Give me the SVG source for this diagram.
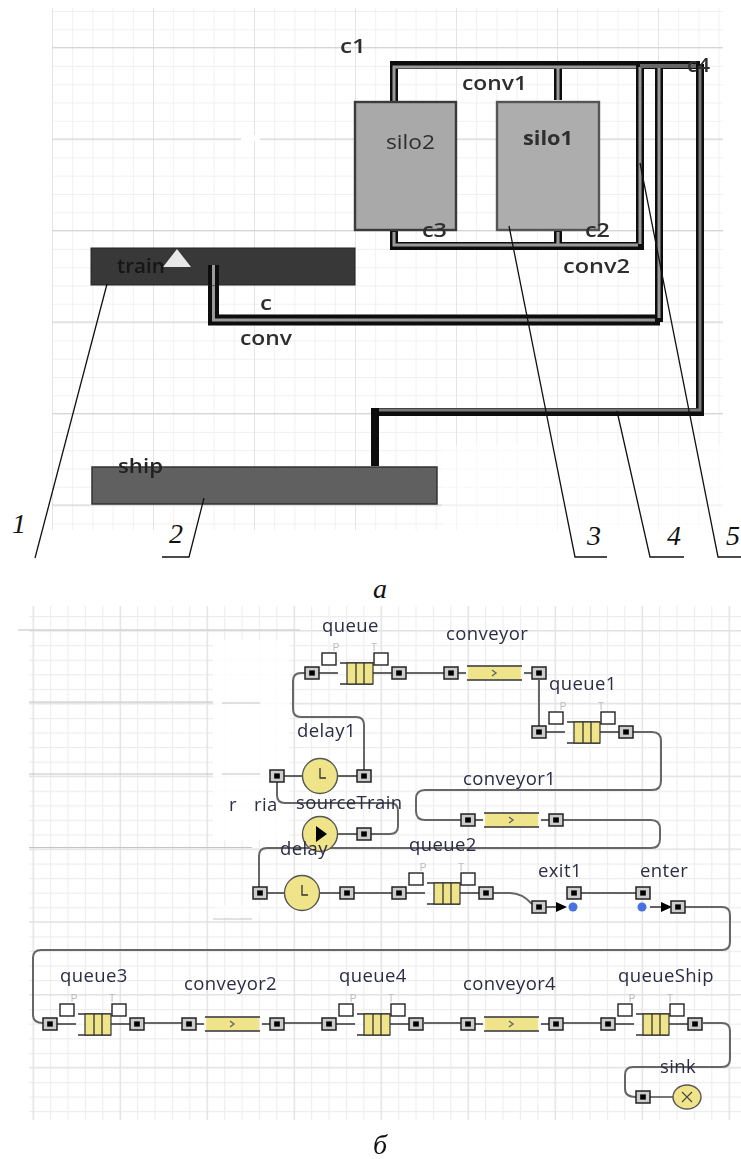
<svg xmlns="http://www.w3.org/2000/svg" width="741" height="1159" viewBox="0 0 741 1159">
<style>
.lab{font-family:"Open Sans","DejaVu Sans",sans-serif;font-size:18.5px;fill:#2c2c44;letter-spacing:.4px}
.top{font-family:"Open Sans","DejaVu Sans",sans-serif;font-size:20px;font-weight:600;fill:#2e2e2e}
.num{font-family:"Liberation Serif",serif;font-style:italic;font-size:28px;fill:#111}
.pt{font-family:"Liberation Sans",sans-serif;font-size:10px;fill:#bbb;text-anchor:middle}
.wire{fill:none;stroke:#666;stroke-width:2}
.stub{fill:none;stroke:#333;stroke-width:1.3}
.y{fill:#f0e48a}
.belt{fill:none;stroke:#111;stroke-width:8}
.beltin{fill:none;stroke:#999;stroke-width:3}
.lead{fill:none;stroke:#111;stroke-width:1.3}
.box{fill:#fff;stroke:#222;stroke-width:1.4}
</style>
<defs>
<pattern id="gMinA" width="20.2" height="18.3" patternUnits="userSpaceOnUse" x="52" y="11"><path d="M.5 0V18.3M0 .5H20.2" fill="none" stroke="#f0f0f0" stroke-width="1"/></pattern>
<pattern id="gMajA" width="101" height="91.5" patternUnits="userSpaceOnUse" x="52" y="47"><path d="M.5 0V91.5" fill="none" stroke="#e4e4e4" stroke-width="1"/><path d="M0 .5H101" fill="none" stroke="#d6d6d6" stroke-width="1.4"/></pattern>
<pattern id="gMinB" width="17.4" height="14.56" patternUnits="userSpaceOnUse" x="15.3" y="616"><path d="M.5 0V14.56M0 .5H17.4" fill="none" stroke="#ededed" stroke-width="1.2"/></pattern>
<pattern id="gMajB" width="87" height="72.8" patternUnits="userSpaceOnUse" x="32.7" y="630"><path d="M.5 0V72.8M0 .5H87" fill="none" stroke="#e2e2e2" stroke-width="1.4"/></pattern>
<filter id="soft" x="-5%" y="-5%" width="110%" height="110%"><feGaussianBlur stdDeviation="0.55"/></filter>
<g id="port"><rect x="-7" y="-6" width="14" height="12" fill="#ccc" stroke="#222" stroke-width="1.5"/><rect x="-2.8" y="-2.6" width="5.6" height="5.2" fill="#000"/></g>
<g id="queueIcon">
<path class="stub" d="M7 0H26M61 0H80M28-10H61M28 11H61"/>
<rect class="y" x="35" y="-10" width="26" height="21" stroke="#333" stroke-width="1.2"/>
<path class="stub" d="M44-10V11M52-10V11"/>
<rect class="box" x="10" y="-20" width="14" height="12"/>
<rect class="box" x="62" y="-20" width="14" height="12"/>
<text class="pt" x="24" y="-22">P</text><text class="pt" x="62" y="-22">T</text>
<use href="#port"/><use href="#port" x="87"/>
</g>
<g id="convIcon">
<path class="stub" d="M7 0H15M73 0H81"/>
<rect class="y" x="17" y="-6.5" width="53" height="13"/>
<path d="M16-7H71M16 7H71" fill="none" stroke="#333" stroke-width="1.3"/>
<path d="M41-3L45 0L41 3" fill="none" stroke="#666" stroke-width="1.4"/>
<use href="#port"/><use href="#port" x="88"/>
</g>
<g id="clock"><circle class="y" r="17.5" stroke="#555" stroke-width="1.4"/><path d="M0-8V2H6" fill="none" stroke="#333" stroke-width="1.3"/></g>
</defs>

<rect width="741" height="1159" fill="#fff"/>

<g id="figA" filter="url(#soft)">
<rect id="gridA" x="52" y="8" width="671" height="522" fill="url(#gMinA)"/>
<rect x="52" y="8" width="671" height="522" fill="url(#gMajA)"/>
<rect x="442" y="445" width="299" height="88" fill="#fff" fill-opacity=".6"/>
<rect x="241" y="135" width="19" height="6" fill="#fff"/>

<g id="connectors-a">
<path class="belt" d="M394 102V65H700M394 230V246H640V65M558 65V100M558 230V246"/>
<path class="beltin" d="M394 102V67H636M558 67V100M558 232V246M394 232V245H638M640 67V244"/>
<path d="M640 66H700" stroke="#666" stroke-width="4" fill="none"/>
<path d="M213.500 265V320H660" fill="none" stroke="#0a0a0a" stroke-width="11"/>
<path d="M213.500 265V320H660" fill="none" stroke="#999" stroke-width="3"/>
<path class="belt" d="M659 68V322"/>
<path class="beltin" d="M659 68V318"/>
<path class="belt" d="M700 64V412H375V466"/>
<path d="M700 66V410H379" fill="none" stroke="#777" stroke-width="3"/>
</g>

<g id="silo2"><rect x="355" y="102" width="101" height="128" fill="#a9a9a9" stroke="#3b3b3b" stroke-width="2.400"/><text class="top" x="386" y="149" textLength="49" lengthAdjust="spacingAndGlyphs" style="font-weight:400">silo2</text></g>
<g id="silo1"><rect x="497" y="102" width="102" height="128" fill="#adadad" stroke="#555" stroke-width="2.400"/><text class="top" x="523" y="145" textLength="50" lengthAdjust="spacingAndGlyphs" font-weight="700" style="font-weight:700">silo1</text></g>
<g id="train"><rect x="91" y="248" width="264" height="37" fill="#383838" stroke="#222"/><path d="M163 267L177 249L191 267Z" fill="#e8e8e8"/><text class="top" x="117" y="273" textLength="48" lengthAdjust="spacingAndGlyphs" style="fill:#161616">train</text>
<path d="M213.500 265V285" fill="none" stroke="#0a0a0a" stroke-width="11"/><path d="M213.500 265V285" fill="none" stroke="#999" stroke-width="3"/></g>
<g id="ship"><rect x="92" y="467" width="345" height="37" fill="#616161" stroke="#333" stroke-width="1.500"/><text class="top" x="118" y="473" textLength="45" lengthAdjust="spacingAndGlyphs" style="fill:#222">ship</text></g>

<g id="labels-a">
<text class="top" x="340" y="53" textLength="26" lengthAdjust="spacingAndGlyphs">c1</text>
<text class="top" x="462" y="90" textLength="65" lengthAdjust="spacingAndGlyphs">conv1</text>
<text class="top" x="422" y="237" textLength="25" lengthAdjust="spacingAndGlyphs">c3</text>
<text class="top" x="585" y="237" textLength="25" lengthAdjust="spacingAndGlyphs">c2</text>
<text class="top" x="687" y="72" textLength="23" lengthAdjust="spacingAndGlyphs">c4</text>
<text class="top" x="563" y="273" textLength="67" lengthAdjust="spacingAndGlyphs">conv2</text>
<text class="top" x="260" y="310" textLength="12" lengthAdjust="spacingAndGlyphs">c</text>
<text class="top" x="240" y="345" textLength="52" lengthAdjust="spacingAndGlyphs">conv</text>
</g>
</g>

<g id="leaders">
<path class="lead" d="M107 284L35 558"/>
<path class="lead" d="M204 498L189 557H162"/>
<path class="lead" d="M509 226L575 557H607"/>
<path class="lead" d="M617 411L650 557H684"/>
<path class="lead" d="M640 163L718 557H741"/>
<text class="num" x="12" y="533">1</text>
<text class="num" x="169" y="543">2</text>
<text class="num" x="587" y="545">3</text>
<text class="num" x="667" y="545">4</text>
<text class="num" x="726" y="545">5</text>
<text class="num" x="373" y="598">a</text>
</g>

<g id="figB">
<rect id="gridB" x="29" y="606" width="712" height="514" fill="url(#gMinB)"/>
<rect x="29" y="606" width="712" height="514" fill="url(#gMajB)"/>
<rect x="213" y="640" width="77" height="200" fill="#fff" fill-opacity=".85"/>
<rect x="215" y="905" width="45" height="12" fill="#fff" fill-opacity=".6"/>
<path d="M18 630H300" stroke="#d4d4d4" stroke-width="1.400" fill="none"/>
<path d="M29 702H213M222 703H260M29 774H213M222 774H260M29 847.500H252M213 919H252" stroke="#c4c4c4" stroke-width="1.200" fill="none"/>

<g id="connectors-b" filter="url(#soft)">
<path class="wire" d="M312 673H301Q293 673 293 681V709Q293 717 301 717H356Q364 717 364 725V776"/>
<path class="stub" d="M406 673H444"/>
<path class="wire" d="M539 680V726"/>
<path class="wire" d="M633 732H652Q661 732 661 741V781Q661 790 652 790H425Q416 790 416 799V811Q416 820 425 820H461"/>
<path class="wire" d="M563 820H651Q660 820 660 829V839Q660 848 651 848H267Q259 848 259 856V887"/>
<path class="wire" d="M277 782V795Q277 803 285 803H390Q398 803 398 811V826Q398 834 390 834H371"/>
<path class="stub" d="M284 776H303M338 776H357M371 834H338M267 893H285M320 893H340M354 893H392"/>
<path class="wire" d="M493 893H510Q522 893 532 904"/>
<path class="stub" d="M581 893H636"/>
<path class="stub" d="M546 907H558M650 907H664"/>
<path d="M556 902L567 907L556 912Z M661 902L672 907L661 912Z" fill="#000"/>
<path class="wire" d="M685 907H722Q730 907 730 915V942Q730 950 722 950H41Q33 950 33 958V1015Q33 1023 43 1023"/>
<path class="wire" d="M144 1023H182M284 1023H322M424 1023H461M563 1023H601"/>
<path class="wire" d="M703 1023H722Q730 1023 730 1031V1059Q730 1067 722 1067H633Q625 1067 625 1075V1089Q625 1097 636 1097"/>
<path class="stub" d="M650 1097H673"/>
</g>

<g id="nodes-b" filter="url(#soft)">
<use id="queue" href="#queueIcon" x="312" y="673"/>
<use id="conveyor" href="#convIcon" x="451" y="673"/>
<use id="queue1" href="#queueIcon" x="539" y="732"/>
<use id="conveyor1" href="#convIcon" x="468" y="820"/>
<g id="delay1"><use href="#clock" x="320" y="776"/><use href="#port" x="277" y="776"/><use href="#port" x="364" y="776"/></g>
<g id="sourceTrain"><circle class="y" cx="320" cy="834" r="17.500" stroke="#555" stroke-width="1.400"/><path d="M316 826L327 834L316 842Z" fill="#000"/><use href="#port" x="364" y="834"/></g>
<g id="delay"><use href="#clock" x="302" y="893"/><use href="#port" x="260" y="893"/><use href="#port" x="347" y="893"/></g>
<use id="queue2" href="#queueIcon" x="399" y="893"/>
<g id="exit1"><use href="#port" x="539" y="907"/><circle cx="573" cy="907" r="4.500" fill="#4a72e0"/><use href="#port" x="574" y="893"/></g>
<g id="enter"><use href="#port" x="643" y="893"/><circle cx="642" cy="907" r="4.500" fill="#4a72e0"/><use href="#port" x="678" y="907"/></g>
<use id="queue3" href="#queueIcon" x="50" y="1024"/>
<use id="conveyor2" href="#convIcon" x="189" y="1024"/>
<use id="queue4" href="#queueIcon" x="329" y="1024"/>
<use id="conveyor4" href="#convIcon" x="468" y="1024"/>
<use id="queueShip" href="#queueIcon" x="608" y="1024"/>
<g id="sink"><use href="#port" x="643" y="1097"/><ellipse class="y" cx="687" cy="1097" rx="14" ry="12" stroke="#555" stroke-width="1.400"/><path d="M682 1092L692 1102M692 1092L682 1102" stroke="#444" stroke-width="1.100"/></g>
</g>

<g id="labels-b">
<text class="lab" x="322" y="632">queue</text>
<text class="lab" x="446" y="640">conveyor</text>
<text class="lab" x="549" y="690">queue1</text>
<text class="lab" x="297" y="737">delay1</text>
<text class="lab" x="229" y="811">r</text>
<text class="lab" x="254" y="811">ria</text>
<text class="lab" x="296" y="809">sourceTrain</text>
<text class="lab" x="463" y="785">conveyor1</text>
<text class="lab" x="280" y="855">delay</text>
<text class="lab" x="409" y="851">queue2</text>
<text class="lab" x="538" y="877">exit1</text>
<text class="lab" x="640" y="877">enter</text>
<text class="lab" x="60" y="982">queue3</text>
<text class="lab" x="184" y="990">conveyor2</text>
<text class="lab" x="339" y="982">queue4</text>
<text class="lab" x="463" y="990">conveyor4</text>
<text class="lab" x="618" y="982">queueShip</text>
<text class="lab" x="660" y="1073">sink</text>
</g>
</g>
<text class="num" x="373" y="1154">б</text>
</svg>
